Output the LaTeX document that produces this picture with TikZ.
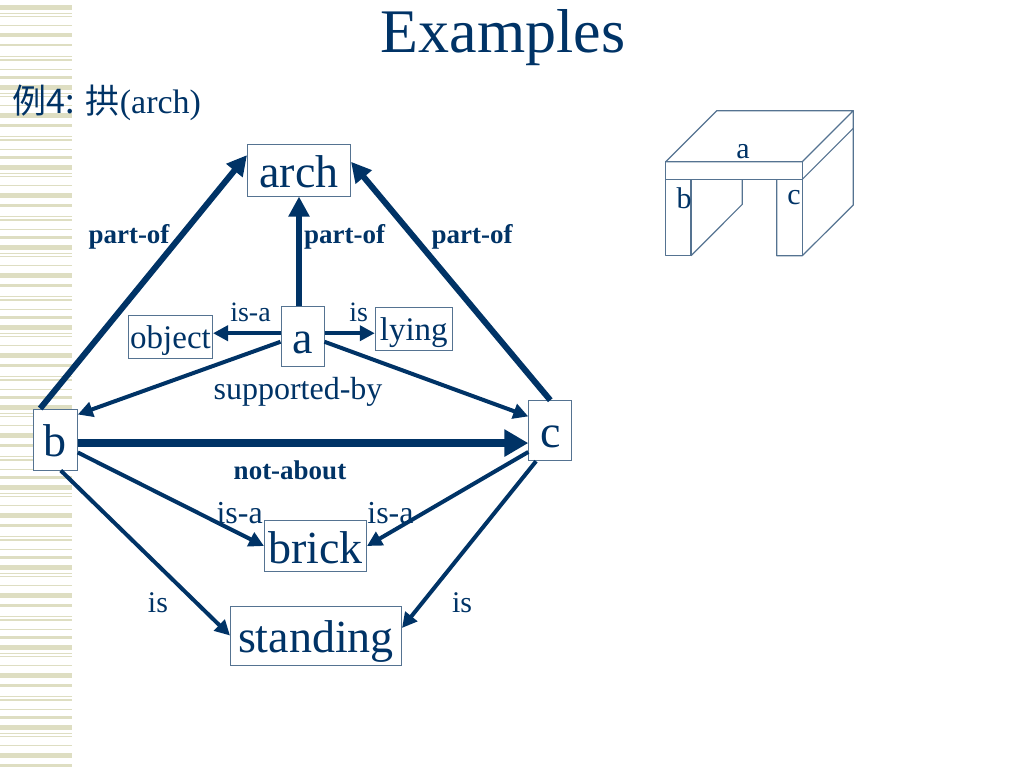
\documentclass[tikz,border=0pt]{standalone}
\usepackage{fontspec}
\setmainfont{Liberation Serif}
\newfontfamily\cjk{Noto Sans CJK SC}
\usetikzlibrary{arrows.meta}
\definecolor{navy}{RGB}{0,51,102}
\definecolor{boxline}{RGB}{85,115,145}
\definecolor{stripe}{RGB}{222,222,194}
\tikzset{
  concept/.style={draw=boxline, fill=white, line width=1pt, text=navy, inner sep=0pt,
    text height=40pt, text depth=6pt, font=\fontsize{46}{46}\selectfont},
  small/.style={text height=28pt, text depth=4pt, font=\fontsize{33}{33}\selectfont},
  lbl/.style={text=navy, inner sep=0pt, font=\fontsize{28}{28}\selectfont},
  boldlbl/.style={text=navy, inner sep=0pt, font=\fontsize{27}{27}\selectfont\bfseries},
  rel/.style={draw=navy, line width=4pt, -{Triangle[length=15pt,width=15pt]}},
  partof/.style={rel, line width=6pt, -{Triangle[length=20pt,width=20pt]}},
  notabout/.style={rel, line width=8pt, -{Triangle[length=24pt,width=26pt]}},
  archline/.style={draw=boxline, line width=1.2pt, line join=round},
}
\begin{document}
\begin{tikzpicture}[x=1pt, y=-1pt]
\useasboundingbox (0,0) rectangle (1024,768);
\foreach \k in {0,...,9}
  \foreach \y/\w in {5/5, 12.7/1.2, 15.7/1.2, 25/1.2, 33/4.5, 44/2.5, 56/1.2, 59/2, 68.5/1.2, 76/2.5}
    \fill[stripe] (0,\k*80+\y) rectangle (72,\k*80+\y+\w);

\node[text=navy, font=\fontsize{62}{62}\selectfont] (title) at (503,38) {Examples};
\node[text=navy, anchor=west, inner sep=0pt, font=\fontsize{34}{34}\selectfont] (example) at (12,103) {{\cjk 例4:} {\cjk 拱}(arch)};

\node[concept, minimum width=103, minimum height=52] (arch) at (299,170) {arch};
\node[concept, minimum width=43, minimum height=60] (a) at (302.5,336.7) {a};
\node[concept, small, minimum width=84, minimum height=43] (object) at (170.5,336.7) {object};
\node[concept, small, minimum width=77, minimum height=43] (lying) at (413.8,328.7) {lying};
\node[concept, minimum width=44, minimum height=61] (b) at (55.3,439.5) {b};
\node[concept, minimum width=43, minimum height=60] (c) at (550.3,430.7) {c};
\node[concept, minimum width=102, minimum height=51] (brick) at (315.5,546) {brick};
\node[concept, minimum width=171, minimum height=59] (standing) at (316,635.5) {standing};

\draw[partof] (b.116) -- (arch.164);
\draw[partof] (a.north -| arch.south) -- (arch.south);
\draw[partof] (c.north) -- (arch.9);
\draw[rel] (a.171) -- (a.171 -| object.east);
\draw[rel] (a.9) -- (a.9 -| lying.west);
\draw[rel] (a.193) -- (b.48);
\draw[rel] (a.-13) -- (c.147);
\draw[notabout] (b.-9) -- (b.-9 -| c.west);
\draw[rel] (b.-30) -- (brick.west);
\draw[rel] (c.224) -- (brick.east);
\draw[rel] (b.280) -- (standing.west);
\draw[rel] (c.245) -- (standing.5);

\node[boldlbl] (pl) at (129,237) {part-of};
\node[boldlbl] (pm) at (344.7,237) {part-of};
\node[boldlbl] (pr) at (472,237) {part-of};
\node[lbl] (isaobject) at (250.5,312) {is-a};
\node[lbl] (islying) at (358.7,312) {is};
\node[lbl, font=\fontsize{32}{32}\selectfont] (supported) at (298,392) {supported-by};
\node[boldlbl] (notab) at (290,470) {not-about};
\node[lbl, font=\fontsize{32}{32}\selectfont] (isab) at (239.7,513) {is-a};
\node[lbl, font=\fontsize{32}{32}\selectfont] (isac) at (390.5,513) {is-a};
\node[lbl, font=\fontsize{30}{30}\selectfont] (isb) at (158,603) {is};
\node[lbl, font=\fontsize{30}{30}\selectfont] (isc) at (462,603) {is};

\draw[archline] (665.7,161.7) -- (716.7,110.7) -- (853.3,110.7) -- (802.3,161.7) -- cycle;
\draw[archline] (665.7,161.7) rectangle (802.3,179.3);
\draw[archline] (802.3,179.3) -- (853.3,128.3);
\draw[archline] (853.3,110.7) -- (853.3,205) -- (802.3,255.7) -- (776.7,255.7) -- (776.7,179.3);
\draw[archline] (802.3,179.3) -- (802.3,255.7);
\draw[archline] (665.7,179.3) -- (665.7,255.7) -- (691,255.7) -- (691,179.3);
\draw[archline] (691,255.7) -- (742.3,204.3) -- (742.3,179.3);
\node[lbl, font=\fontsize{30}{30}\selectfont] (blocka) at (743,152) {a};
\node[lbl, font=\fontsize{30}{30}\selectfont] (blockb) at (684,198) {b};
\node[lbl, font=\fontsize{30}{30}\selectfont] (blockc) at (794,198) {c};
\end{tikzpicture}
\end{document}
